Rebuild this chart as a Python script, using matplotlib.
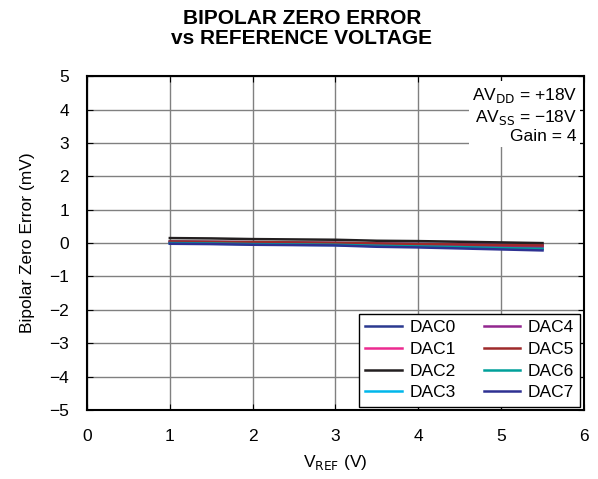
import matplotlib
matplotlib.use("Agg")
import matplotlib.pyplot as plt

plt.rcParams['font.family'] = ['Liberation Sans', 'DejaVu Sans']

# reference voltage (V)
vref = [1.0, 1.5, 2.0, 2.5, 3.0, 3.5, 4.0, 4.5, 5.0, 5.5]

# bipolar zero error (mV)
dac0 = [0.05, 0.04, 0.03, 0.02, 0.01, -0.01, -0.02, -0.03, -0.04, -0.05]
dac1 = [0.02, 0.01, 0.0, -0.01, -0.02, -0.04, -0.05, -0.07, -0.08, -0.10]
dac2 = [0.15, 0.14, 0.12, 0.11, 0.10, 0.07, 0.06, 0.04, 0.02, 0.00]
dac3 = [0.00, -0.02, -0.03, -0.05, -0.06, -0.09, -0.11, -0.13, -0.16, -0.18]
dac4 = [0.03, 0.02, 0.01, -0.01, -0.02, -0.04, -0.06, -0.08, -0.10, -0.12]
dac5 = [0.05, 0.04, 0.03, 0.02, 0.01, -0.01, -0.03, -0.04, -0.06, -0.07]
dac6 = [0.00, -0.01, -0.03, -0.04, -0.05, -0.08, -0.10, -0.12, -0.15, -0.17]
dac7 = [-0.02, -0.03, -0.05, -0.06, -0.07, -0.11, -0.13, -0.16, -0.19, -0.22]

series = [dac0, dac1, dac2, dac3, dac4, dac5, dac6, dac7]
names = ['DAC0', 'DAC1', 'DAC2', 'DAC3', 'DAC4', 'DAC5', 'DAC6', 'DAC7']
colors = ['#2b3990', '#ec2a90', '#231f20', '#00b7eb',
          '#92278f', '#9e2a2b', '#00a09a', '#2e3192']

fig = plt.figure(figsize=(5.98, 4.79), dpi=100)
ax = fig.add_axes([0.1455, 0.144, 0.831, 0.697])

for ys, name, c in zip(series, names, colors):
    ax.plot(vref, ys, color=c, lw=1.8, label=name)

ax.set_xlim(0, 6)
ax.set_ylim(-5, 5)
ax.set_xticks(range(0, 7))
ax.set_yticks(range(-5, 6))
ax.set_yticklabels([str(v).replace('-', '\u2212') for v in range(-5, 6)])
ax.grid(True, color='#808080', lw=1.0)
ax.tick_params(direction='in', top=True, right=True, length=4, labelsize=12.5)
ax.tick_params(axis='x', pad=14)
ax.tick_params(axis='y', pad=13)
for s in ax.spines.values():
    s.set_linewidth(1.5)

ax.set_xlabel('V$_{\\mathrm{REF}}$ (V)', fontsize=12.5, labelpad=6)
ax.set_ylabel('Bipolar Zero Error (mV)', fontsize=12.5, labelpad=10)

fig.text(0.505, 0.94, 'BIPOLAR ZERO ERROR\nvs REFERENCE VOLTAGE', ha='center', va='center',
         fontsize=15, fontweight='bold', linespacing=1.05)

ax.text(5.915, 3.83, 'AV$_{\\mathrm{DD}}$ = +18V\nAV$_{\\mathrm{SS}}$ = \u221218V\nGain = 4',
        ha='right', va='center', fontsize=12.5, linespacing=1.2,
        bbox=dict(facecolor='white', edgecolor='none', pad=2))

leg = ax.legend(loc='lower right', ncol=2, fontsize=12.5, frameon=True, fancybox=False,
                borderaxespad=0.2, handlelength=2.1, columnspacing=1.6,
                labelspacing=0.38, handletextpad=0.45, borderpad=0.35)
leg.get_frame().set_edgecolor('black')
leg.get_frame().set_linewidth(1.0)
leg.get_frame().set_alpha(1)

fig.savefig('out.png', dpi=100)
